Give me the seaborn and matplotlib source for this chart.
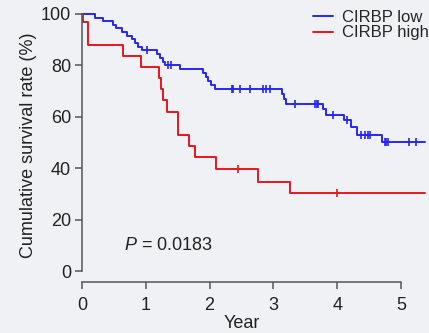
import numpy as np
import pandas as pd
import matplotlib
matplotlib.use("Agg")
import matplotlib.pyplot as plt
import seaborn as sns

# ── Data ───────────────────────────────────────────────────
groups = ["CIRBP low", "CIRBP high"]

low_time = [0, 0.20, 0.33, 0.49, 0.54, 0.62, 0.70, 0.78, 0.83, 0.88, 0.94,
            1.17, 1.22, 1.27, 1.30, 1.54, 1.90, 1.94, 1.98, 2.02, 2.08,
            3.13, 3.16, 3.20, 3.78, 3.83, 4.10, 4.22, 4.31, 4.70]
low_surv = [100, 98.6, 97.2, 95.8, 94.4, 93.0, 91.5, 90.1, 88.7, 87.3, 85.9,
            84.5, 83.0, 81.5, 80.0, 78.7, 77.2, 75.6, 74.1, 72.5, 70.9,
            69.0, 67.0, 65.1, 63.0, 60.8, 58.7, 56.2, 52.9, 50.3]
low_censor = [1.02, 1.35, 1.40, 2.35, 2.37, 2.48, 2.64, 2.84, 2.89, 2.95,
              3.34, 3.65, 3.68, 3.70, 3.93, 4.15, 4.38, 4.44, 4.49, 4.51,
              4.75, 4.77, 4.80, 5.12, 5.24]

high_time = [0, 0.02, 0.10, 0.65, 0.92, 1.21, 1.24, 1.27, 1.33, 1.51, 1.67,
             1.77, 2.10, 2.76, 3.26]
high_surv = [100, 96.8, 88.0, 83.5, 79.2, 75.0, 71.0, 66.5, 62.0, 53.0, 48.8,
             44.2, 39.5, 34.7, 30.2]
high_censor = [2.45, 4.00]

follow_up_end = 5.38
p_text = "$P$ = 0.0183"

colors = {"CIRBP low": "#2626f2", "CIRBP high": "#e8161e"}
BG = "#eff1f5"

# ── Build long table ───────────────────────────────────────
rows = []
for g, t, s in [("CIRBP low", low_time, low_surv), ("CIRBP high", high_time, high_surv)]:
    for ti, si in zip(t + [follow_up_end], s + [s[-1]]):
        rows.append({"time": ti, "surv": si, "group": g})
df = pd.DataFrame(rows)


def surv_at(times, survs, c):
    idx = np.searchsorted(times, c, side="right") - 1
    return survs[idx]


# ── Plot ───────────────────────────────────────────────────
sns.set_theme(style="ticks")
plt.rcParams["font.family"] = ["Liberation Sans", "DejaVu Sans"]
plt.rcParams["mathtext.fontset"] = "custom"
plt.rcParams["mathtext.it"] = "Liberation Sans:italic"
plt.rcParams["mathtext.rm"] = "Liberation Sans"

fig = plt.figure(figsize=(4.29, 3.33), dpi=100, facecolor=BG)
ax = fig.add_axes([82 / 429, 62 / 333, 347 / 429, 257 / 333])
ax.set_facecolor(BG)

sns.lineplot(data=df, x="time", y="surv", hue="group", hue_order=groups,
             palette=colors, estimator=None, drawstyle="steps-post",
             linewidth=1.4, clip_on=False, ax=ax)

for g, t, s, cens in [("CIRBP low", low_time, low_surv, low_censor),
                      ("CIRBP high", high_time, high_surv, high_censor)]:
    cy = [surv_at(t, s, c) for c in cens]
    ax.plot(cens, cy, linestyle="none", marker="|", markersize=6,
            markeredgewidth=1.2, color=colors[g], clip_on=False)

ax.set_xlim(0, 5.44)
ax.set_ylim(0, 100)
ax.set_xticks(range(6))
ax.set_yticks(range(0, 101, 20))

for side in ["top", "right"]:
    ax.spines[side].set_visible(False)
for side in ["left", "bottom"]:
    ax.spines[side].set_color("#555555")
    ax.spines[side].set_linewidth(1.1)
ax.spines["bottom"].set_position(("outward", 8))
ax.spines["bottom"].set_bounds(0, 5)
ax.spines["left"].set_bounds(0, 100)

ax.tick_params(axis="both", colors="#555555", labelcolor="#222222",
               labelsize=13, width=1.1, length=5)
ax.tick_params(axis="y", pad=3)
ax.tick_params(axis="x", pad=6)

ax.set_xlabel("Year", fontsize=13, color="#222222")
ax.set_ylabel("Cumulative survival rate (%)", fontsize=13, color="#222222")
ax.xaxis.set_label_coords(0.46, -0.17)
ax.yaxis.set_label_coords(-0.13, 0.49)

ax.text(1.35, 10, p_text, fontsize=13, ha="center", va="center", color="#222222")

handles, labels = ax.get_legend_handles_labels()
ax.legend(handles[:2], labels[:2], loc="upper left",
          bbox_to_anchor=(313 / 429, 0.971), bbox_transform=fig.transFigure,
          frameon=False, fontsize=12, handlelength=1.2, handletextpad=0.55,
          labelspacing=0.05, borderpad=0, borderaxespad=0)

fig.savefig("out.png", dpi=100, facecolor=BG)
